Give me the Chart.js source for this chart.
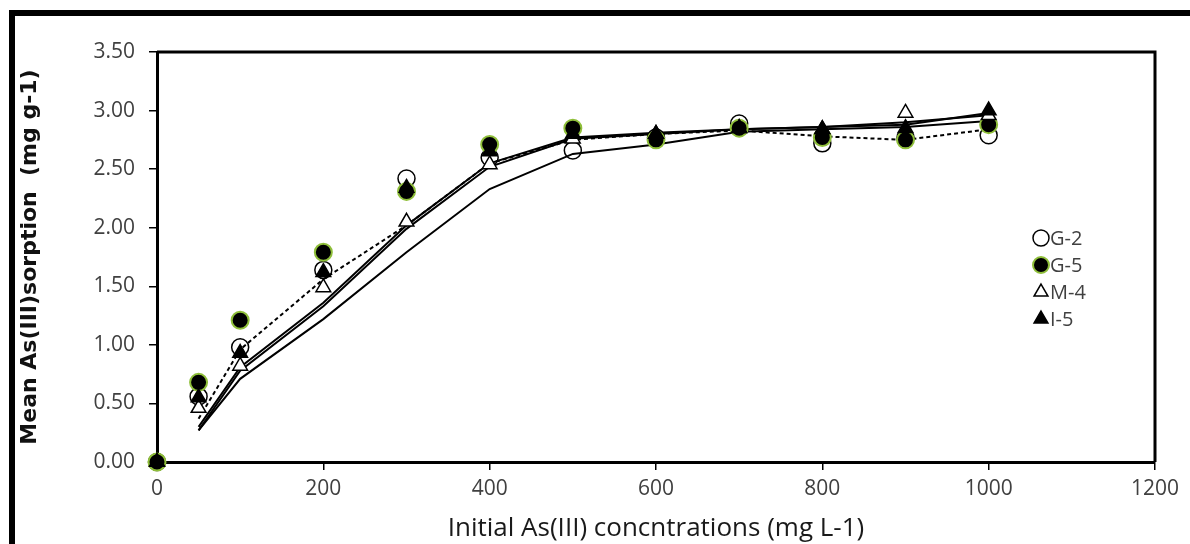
<!DOCTYPE html>
<html>
<head>
<meta charset="utf-8">
<script src="https://cdn.jsdelivr.net/npm/chart.js@4.4.1/dist/chart.umd.min.js"></script>
<style>
  html, body { margin: 0; padding: 0; background: #fff; }
  #wrap { position: relative; width: 1190px; height: 544px; overflow: hidden; }
  #frame { position: absolute; left: 9px; top: 10px; width: 1200px; height: 560px;
           border-left: 6px solid #000; border-top: 6px solid #000; }
  canvas { position: absolute; left: 0; top: 0; }
</style>
</head>
<body>
<div id="wrap">
  <div id="frame"></div>
  <canvas id="sorptionChart" width="1190" height="544"></canvas>
</div>
<script>
// initial concentrations (mg L-1)
const conc = [0, 50, 100, 200, 300, 400, 500, 600, 700, 800, 900, 1000];

// measured sorption (markers)
const g2 = [0, 0.56, 0.98, 1.64, 2.42, 2.60, 2.66, 2.77, 2.89, 2.72, 2.77, 2.79];
const g5 = [0, 0.68, 1.21, 1.79, 2.31, 2.71, 2.85, 2.75, 2.85, 2.77, 2.75, 2.88];
const m4 = [0, 0.46, 0.82, 1.49, 2.05, 2.54, 2.76, 2.80, 2.85, 2.84, 2.98, 2.96];
const i5 = [0, 0.55, 0.93, 1.62, 2.34, 2.65, 2.80, 2.80, 2.85, 2.84, 2.85, 3.00];

// fitted curves (lines, start at 50)
const g2Fit = [null, 0.27, 0.71, 1.22, 1.79, 2.33, 2.63, 2.71, 2.82, 2.84, 2.86, 2.91];
const g5Fit = [null, 0.37, 0.96, 1.56, 2.02, 2.55, 2.75, 2.80, 2.83, 2.78, 2.75, 2.84];
const m4Fit = [null, 0.27, 0.78, 1.33, 1.99, 2.52, 2.76, 2.80, 2.84, 2.86, 2.90, 2.96];
const i5Fit = [null, 0.30, 0.81, 1.36, 2.02, 2.55, 2.77, 2.81, 2.84, 2.86, 2.88, 2.98];

const seriesNames = ["G-2", "G-5", "M-4", "I-5"];
const yTicks = [0, 0.5, 1, 1.5, 2, 2.5, 3, 3.5];

const pts = (ys) => conc.map((x, i) => ({ x: x, y: ys[i] }));

const green = "#8fbf3a";
const tickFont = { family: "Open Sans", size: 21 };
const fitLine = (ys, dash) => ({
    type: "line",
    data: pts(ys),
    borderColor: "#000",
    borderWidth: 2,
    borderDash: dash || [],
    pointRadius: 0,
    fill: false,
    order: 10,
    inLegend: false
});
const markers = (label, ys, style, fill, edge, ord) => ({
    type: "scatter",
    label: label,
    data: pts(ys),
    pointStyle: style,
    pointRadius: 8.5,
    pointHoverRadius: 8.5,
    pointBackgroundColor: fill,
    pointBorderColor: edge,
    pointBorderWidth: 1.5,
    showLine: false,
    clip: false,
    order: ord,
    inLegend: true
});

// box around plot area
const plotFrame = {
    id: "plotFrame",
    beforeDatasetsDraw(chart) {
        const a = chart.chartArea, ctx = chart.ctx;
        ctx.save();
        ctx.strokeStyle = "#000";
        ctx.lineWidth = 3;
        ctx.beginPath();
        ctx.moveTo(a.left, a.top);
        ctx.lineTo(a.right, a.top);
        ctx.lineTo(a.right, a.bottom);
        ctx.stroke();
        ctx.restore();
    }
};

// legend inside plot, markers only
const markerLegend = {
    id: "markerLegend",
    afterDraw(chart) {
        const ctx = chart.ctx;
        const x0 = 1041, y0 = 238, step = 27;
        let row = 0;
        ctx.save();
        chart.data.datasets.forEach((ds) => {
            if (!ds.inLegend) return;
            const y = y0 + row * step;
            ctx.fillStyle = ds.pointBackgroundColor;
            ctx.strokeStyle = ds.pointBorderColor;
            ctx.lineWidth = ds.pointBorderWidth;
            Chart.helpers.drawPoint(ctx, { pointStyle: ds.pointStyle, radius: 8, borderWidth: ds.pointBorderWidth }, x0, y);
            ctx.fillStyle = "#404040";
            ctx.font = "20px 'Open Sans'";
            ctx.textBaseline = "middle";
            ctx.fillText(ds.label, x0 + 9, y + 1);
            row++;
        });
        ctx.restore();
    }
};

new Chart(document.getElementById("sorptionChart"), {
    data: {
        datasets: [
            fitLine(g2Fit),
            fitLine(g5Fit, [4, 3]),
            fitLine(m4Fit),
            fitLine(i5Fit),
            markers(seriesNames[0], g2, "circle", "rgba(255,255,255,0)", "#000", 4),
            Object.assign(markers(seriesNames[1], g5, "circle", "#000", green, 3), { pointBorderWidth: 2 }),
            markers(seriesNames[2], m4, "triangle", "#fff", "#000", 2),
            markers(seriesNames[3], i5, "triangle", "#000", "#000", 1)
        ]
    },
    options: {
        responsive: false,
        animation: false,
        layout: { padding: { left: 0, top: 52, right: 35, bottom: 0 } },
        plugins: {
            legend: { display: false },
            tooltip: { enabled: false }
        },
        scales: {
            x: {
                type: "linear",
                min: 0,
                max: 1200,
                afterFit: (s) => { s.height = 82; },
                ticks: { stepSize: 200, color: "#404040", font: tickFont, padding: 6, maxRotation: 0,
                         callback: (v) => String(v) },
                grid: { display: true, drawOnChartArea: false, drawTicks: true, tickLength: 8, color: "#000", lineWidth: 1.5 },
                border: { display: true, color: "#000", width: 3 },
                title: {
                    display: true,
                    text: "Initial As(III) concntrations (mg L-1)",
                    color: "#1a1a1a",
                    font: { family: "Open Sans", size: 26 },
                    padding: { top: -18, bottom: 0 }
                }
            },
            y: {
                min: 0,
                max: 3.5,
                afterFit: (s) => { s.width = 157; },
                afterBuildTicks: (s) => { s.ticks = yTicks.map((v) => ({ value: v })); },
                ticks: {
                    color: "#404040",
                    font: tickFont,
                    padding: 14,
                    callback: (v) => v.toFixed(2)
                },
                grid: { display: true, drawOnChartArea: false, drawTicks: true, tickLength: 8, color: "#000", lineWidth: 1.5 },
                border: { display: true, color: "#000", width: 3 },
                title: {
                    display: true,
                    text: "Mean As(III)sorption  (mg g-1)",
                    color: "#111",
                    font: { family: "DejaVu Sans", size: 22, weight: "bold" },
                    padding: { top: 17, bottom: 0 }
                }
            }
        }
    },
    plugins: [plotFrame, markerLegend]
});
</script>
</body>
</html>
